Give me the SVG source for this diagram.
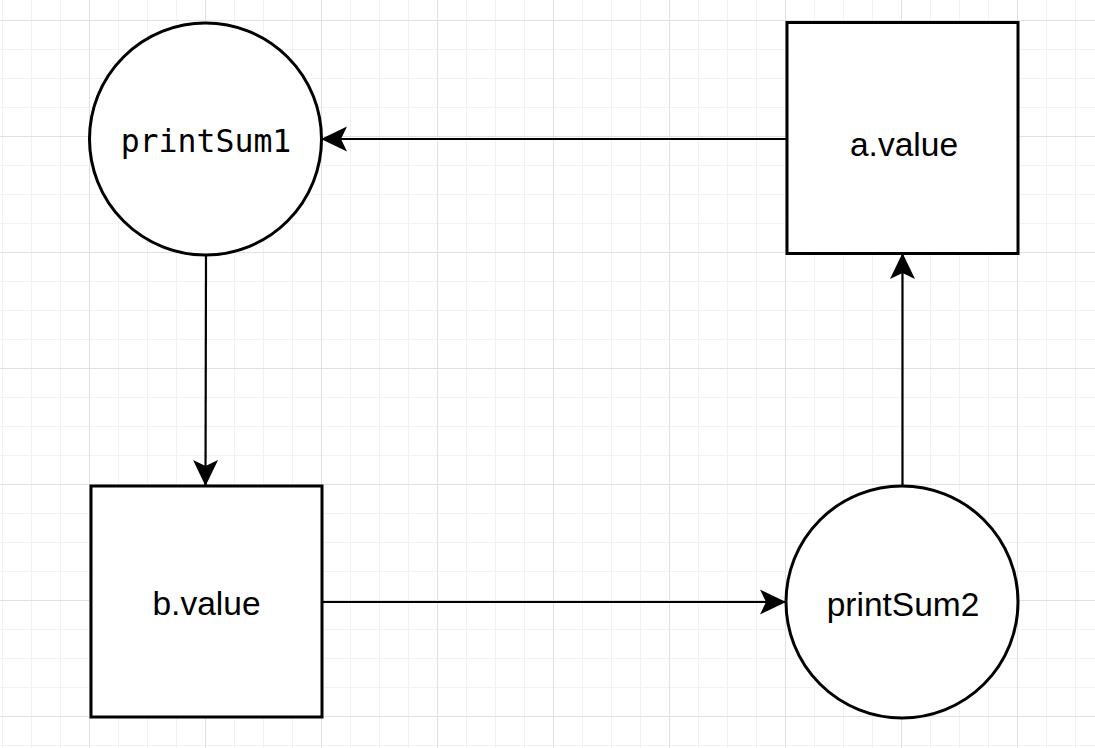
<svg xmlns="http://www.w3.org/2000/svg" width="1095" height="748" viewBox="0 0 1095 748">
  <style>
    .shape { fill: #ffffff; stroke: #000000; stroke-width: 3; }
    .edge { fill: none; stroke: #000000; stroke-width: 2.2; marker-end: url(#arrow); }
    .sans { font-family: "Liberation Sans", Arial, sans-serif; font-size: 33.5px; fill: #000000; text-anchor: middle; }
    .mono { font-family: "DejaVu Sans Mono", "Liberation Mono", monospace; font-size: 31.5px; fill: #000000; text-anchor: middle; }
  </style>
  <defs>
    <pattern id="grid" patternUnits="userSpaceOnUse" x="89" y="20" width="116" height="116">
      <rect x="29" y="0" width="1" height="116" fill="#f2f2f2"/>
      <rect x="58" y="0" width="1" height="116" fill="#f2f2f2"/>
      <rect x="87" y="0" width="1" height="116" fill="#f2f2f2"/>
      <rect x="0" y="29" width="116" height="1" fill="#f2f2f2"/>
      <rect x="0" y="58" width="116" height="1" fill="#f2f2f2"/>
      <rect x="0" y="87" width="116" height="1" fill="#f2f2f2"/>
      <rect x="0" y="0" width="1" height="116" fill="#e0e0e0"/>
      <rect x="0" y="0" width="116" height="1" fill="#e0e0e0"/>
    </pattern>
    <marker id="arrow" markerUnits="userSpaceOnUse" markerWidth="32" markerHeight="32" viewBox="-28 -16 32 32" refX="0" refY="0" orient="auto">
      <path d="M1,0 L-25,-12.5 L-19,0 L-25,12.5 Z" fill="#000000"/>
    </marker>
  </defs>
  <rect x="0" y="0" width="1095" height="748" fill="#ffffff"/>
  <rect x="0" y="0" width="1095" height="748" fill="url(#grid)"/>

  <g id="connectors">
    <path class="edge" d="M786,139 L322,139"/>
    <path class="edge" d="M206,256 L205.5,485"/>
    <path class="edge" d="M322,602 L785,602"/>
    <path class="edge" d="M902.5,486 L902.5,254"/>
  </g>

  <g id="printSum1">
    <circle class="shape" cx="205.5" cy="139" r="116"/>
    <text class="mono" x="206" y="152">printSum1</text>
  </g>
  <g id="a_value">
    <rect class="shape" x="787" y="22.5" width="231" height="231"/>
    <text class="sans" x="904" y="156">a.value</text>
  </g>
  <g id="b_value">
    <rect class="shape" x="91" y="486" width="231" height="231"/>
    <text class="sans" x="206.5" y="615">b.value</text>
  </g>
  <g id="printSum2">
    <circle class="shape" cx="902" cy="602" r="116"/>
    <text class="sans" x="903" y="616">printSum2</text>
  </g>
</svg>
